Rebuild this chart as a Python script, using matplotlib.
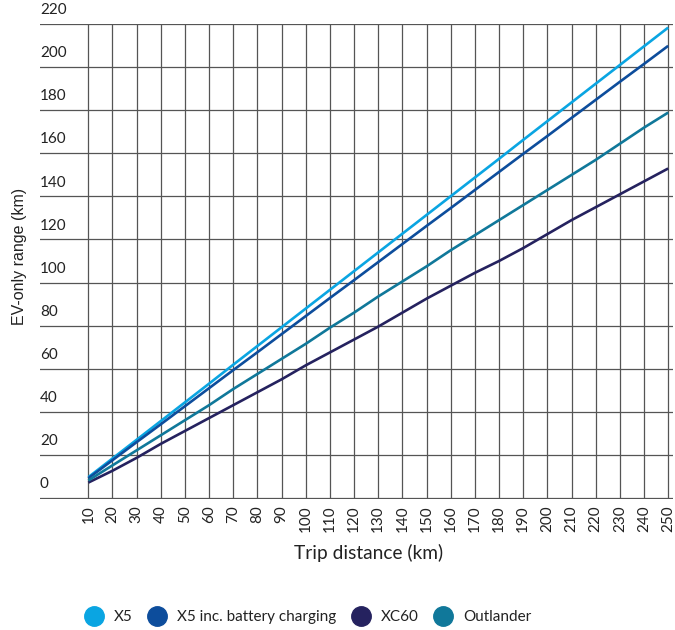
import matplotlib
matplotlib.use("Agg")
import matplotlib.pyplot as plt
import matplotlib.transforms as mtransforms
from matplotlib.lines import Line2D

# -------- data --------
distance = [10, 20, 30, 40, 50, 60, 70, 80, 90, 100, 110, 120, 130,
            140, 150, 160, 170, 180, 190, 200, 210, 220, 230, 240, 250]

x5 = [9.5, 18.2, 26.9, 35.6, 44.3, 53.0, 61.8, 70.5, 79.2, 87.9, 96.6, 105.3, 114.0,
      122.7, 131.4, 140.1, 148.8, 157.5, 166.3, 175.0, 183.7, 192.4, 201.1, 209.8, 218.5]
x5_charging = [9.0, 17.4, 25.8, 34.1, 42.5, 50.9, 59.3, 67.6, 76.0, 84.4, 92.8, 101.1, 109.5,
               117.9, 126.3, 134.6, 143.0, 151.4, 159.8, 168.1, 176.5, 184.9, 193.3, 201.6, 210.0]
xc60 = [7.0, 12.5, 18.5, 25.0, 31.0, 37.0, 43.0, 49.0, 55.0, 61.5, 67.5, 73.5, 79.5,
        86.0, 92.5, 98.5, 104.5, 110.0, 116.0, 122.5, 129.0, 135.0, 141.0, 147.0, 153.0]
outlander = [8.0, 15.0, 22.0, 29.0, 36.0, 43.0, 50.5, 57.5, 64.5, 71.5, 79.0, 86.0, 93.5,
             100.5, 107.5, 115.0, 122.0, 129.0, 136.0, 143.0, 150.0, 157.0, 164.5, 172.0, 179.0]

yticks = [0, 20, 40, 60, 80, 100, 120, 140, 160, 180, 200, 220]

series = [
    ("X5", x5, "#0aa5e2"),
    ("X5 inc. battery charging", x5_charging, "#0d4d9c"),
    ("XC60", xc60, "#25225f"),
    ("Outlander", outlander, "#10789a"),
]

plt.rcParams['font.family'] = ['Lato', 'DejaVu Sans']
TXT = "#222222"
GRID = "#555555"

fig = plt.figure(figsize=(6.75, 6.3), dpi=100)
ax = fig.add_axes([40/675, 1 - 498.5/630, 633/675, 475/630])

ax.set_xlim(-10, 252)
ax.set_ylim(-0.4, 220.4)

# grid: vertical lines only between 0 and 220, horizontal lines full width
for xv in distance:
    ax.plot([xv, xv], [0, 220], color=GRID, lw=0.9, zorder=1)
for yv in yticks:
    ax.axhline(yv, color=GRID, lw=0.9, zorder=1)

for name, vals, col in series:
    ax.plot(distance, vals, color=col, lw=1.9, zorder=3,
            solid_capstyle='butt')

for s in ax.spines.values():
    s.set_visible(False)

ax.set_xticks(distance)
ax.set_xticklabels([str(d) for d in distance], rotation=90)
ax.tick_params(axis='x', length=0, pad=5, labelsize=11, labelcolor=TXT)

ax.set_yticks(yticks)
ax.set_yticklabels([str(v) for v in yticks])
ax.tick_params(axis='y', length=0, pad=0, labelsize=11, labelcolor=TXT)
offset = mtransforms.ScaledTranslation(0, 5/72, fig.dpi_scale_trans)
for lab in ax.get_yticklabels():
    lab.set_horizontalalignment('left')
    lab.set_verticalalignment('bottom')
    lab.set_transform(lab.get_transform() + offset)

fig.text(369/675, 1 - 553/630, "Trip distance (km)", ha='center', va='center',
         fontsize=13.8, color=TXT)
fig.text(20/675, 1 - 256/630, "EV-only range (km)", ha='center', va='center',
         rotation=90, fontsize=11.5, color=TXT, family='Liberation Sans')

handles = [Line2D([], [], marker='o', linestyle='none', markersize=14,
                  markerfacecolor=col, markeredgecolor=col, label=name)
           for name, vals, col in series]
fig.legend(handles=handles, loc='center', bbox_to_anchor=(305/675, 1 - 617/630),
           ncol=4, frameon=False, fontsize=11, handletextpad=0.3,
           columnspacing=0.6, labelcolor=TXT)

fig.savefig("out.png", dpi=100)
